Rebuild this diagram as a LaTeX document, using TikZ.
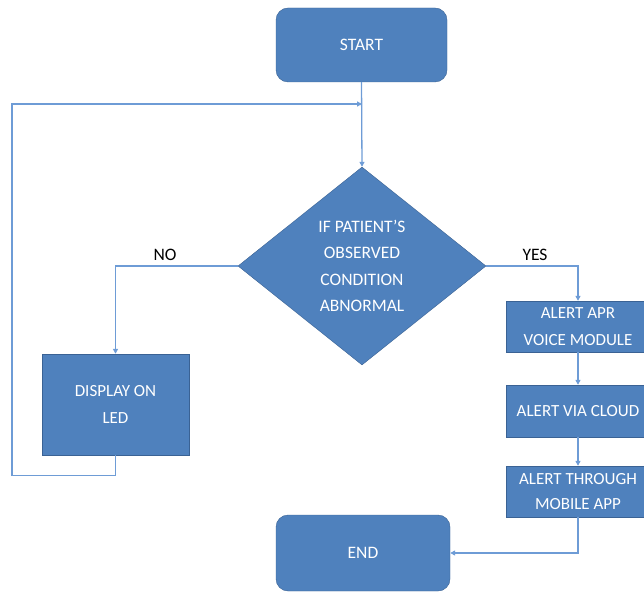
\documentclass[tikz,border=0pt]{standalone}
\usepackage{fontspec}
\setmainfont{Carlito}
\usetikzlibrary{shapes.geometric, arrows.meta}

\definecolor{boxblue}{RGB}{79,129,189}
\definecolor{boxedge}{RGB}{58,98,148}
\definecolor{lineblue}{RGB}{110,156,214}

\tikzset{
    terminal/.style={draw=boxedge, fill=boxblue, rounded corners=12pt, text=white, font=\fontsize{17.5}{24}\selectfont, align=center},
    process/.style={draw=boxedge, fill=boxblue, text=white, font=\fontsize{17}{27}\selectfont, align=center, inner sep=0pt},
    decision/.style={diamond, draw=boxedge, fill=boxblue, text=white, font=\fontsize{17.5}{26.5}\selectfont, align=center, inner sep=0pt, aspect=1.25},
    flow/.style={lineblue, line width=1.3pt, -{Triangle[length=5pt, width=5pt]}},
    answer/.style={font=\fontsize{17.5}{21}\selectfont}
}

\begin{document}
\begin{tikzpicture}[x=1pt, y=1pt]
    \useasboundingbox (0,0) rectangle (644,592);

    % Start and end
    \node[terminal, minimum width=171pt, minimum height=74pt] (start) at (361.5,547) {START};
    \node[terminal, minimum width=174pt, minimum height=76pt] (end) at (363,39) {END};

    % Decision
    \node[decision, minimum width=248pt, minimum height=198pt] (cond) at (362,326)
        {IF PATIENT’S\\OBSERVED\\CONDITION\\ABNORMAL};

    % NO branch
    \node[process, minimum width=147pt, minimum height=101pt] (display) at (115.5,187.5)
        {DISPLAY ON\\LED};

    % YES branch
    \node[process, minimum width=144pt, minimum height=51pt] (apr) at (578,265.5)
        {ALERT APR\\VOICE MODULE};
    \node[process, minimum width=144pt, minimum height=52pt] (cloud) at (578,181)
        {ALERT VIA CLOUD};
    \node[process, minimum width=144pt, minimum height=51pt, font=\fontsize{17}{25}\selectfont] (mobile) at (578,100.5)
        {ALERT THROUGH\\MOBILE APP};

    % Labels
    \node[answer] (no) at (165,337) {NO};
    \node[answer] (yes) at (535,337) {YES};

    % Connectors
    \coordinate (loop) at (362,488);
    \draw[flow] (start.south) -- (cond.north);
    \draw[flow] (cond.west) -| (display.north);
    \draw[flow] (cond.east) -| (apr.north);
    \draw[flow] (apr.south) -- (cloud.north);
    \draw[flow] (cloud.south) -- (mobile.north);
    \draw[flow] (mobile.south) |- (end.east);

    % Loop back to the check
    \draw[flow] (display.south) -- ++(0,-20) -| (12,488) -- (loop);

\end{tikzpicture}
\end{document}
